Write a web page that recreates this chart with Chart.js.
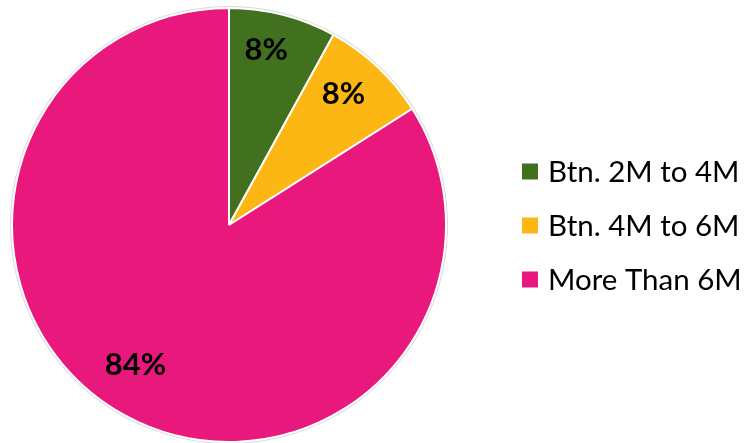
<!DOCTYPE html>
<html>
<head>
<meta charset="utf-8">
<script src="https://cdn.jsdelivr.net/npm/chart.js@4/dist/chart.umd.min.js"></script>
<style>
  html, body { margin: 0; padding: 0; background: #ffffff; }
  #wrap { position: relative; width: 749px; height: 443px; }
</style>
</head>
<body>
<div id="wrap"><canvas id="c" width="749" height="443"></canvas></div>
<script>
// Share of properties by price band
const categories = ['Btn. 2M to 4M', 'Btn. 4M to 6M', 'More Than 6M'];
const shares = [8, 8, 84];
const sliceColors = ['#41711f', '#fdb714', '#e9187d'];

// faint grey rim around the pie
const rimPlugin = {
  id: 'rim',
  beforeDatasetsDraw(chart) {
    const arc = chart.getDatasetMeta(0).data[0];
    if (!arc) return;
    const ctx = chart.ctx;
    ctx.save();
    ctx.beginPath();
    ctx.arc(arc.x, arc.y, arc.outerRadius + 1, 0, Math.PI * 2);
    ctx.strokeStyle = 'rgba(0,0,0,0.15)';
    ctx.lineWidth = 2;
    ctx.stroke();
    ctx.restore();
  }
};

// percentage labels inside each slice (best-fit style: small angle / radius nudges)
const valueLabels = {
  id: 'valueLabels',
  afterDatasetsDraw(chart, args, opts) {
    const ctx = chart.ctx;
    const ds = chart.data.datasets[0];
    ctx.save();
    ctx.font = 'bold 31px Lato, "Open Sans", sans-serif';
    ctx.fillStyle = '#000000';
    ctx.textAlign = 'center';
    ctx.textBaseline = 'middle';
    chart.getDatasetMeta(0).data.forEach((arc, i) => {
      const nudge = opts.angleNudge[i] * Math.PI / 180;
      const mid = (arc.startAngle + arc.endAngle) / 2 + nudge;
      const r = arc.outerRadius * opts.radiusFactor[i];
      ctx.fillText(ds.data[i] + '%', arc.x + Math.cos(mid) * r, arc.y + Math.sin(mid) * r);
    });
    ctx.restore();
  }
};

// legend on the right
const sideLegend = {
  id: 'sideLegend',
  afterDraw(chart) {
    const ctx = chart.ctx;
    const ds = chart.data.datasets[0];
    ctx.save();
    ctx.font = '29.5px Lato, "Open Sans", sans-serif';
    ctx.textBaseline = 'middle';
    ctx.textAlign = 'left';
    chart.data.labels.forEach((lab, i) => {
      const y = 171.5 + i * 54;
      ctx.fillStyle = ds.backgroundColor[i];
      ctx.fillRect(522, y - 8, 16, 16);
      ctx.fillStyle = '#000000';
      ctx.fillText(lab, 548, y + 1);
    });
    ctx.restore();
  }
};

new Chart(document.getElementById('c'), {
  type: 'pie',
  data: {
    labels: categories,
    datasets: [{
      data: shares,
      backgroundColor: sliceColors,
      borderColor: '#ffffff',
      borderWidth: 2
    }]
  },
  options: {
    responsive: false,
    animation: false,
    radius: 217,
    layout: { padding: { left: 0, right: 291, top: 7, bottom: 0 } },
    plugins: {
      legend: { display: false },
      tooltip: { enabled: false },
      valueLabels: {
        angleNudge: [-2.4, -2, 5],
        radiusFactor: [0.825, 0.8, 0.775]
      }
    }
  },
  plugins: [rimPlugin, valueLabels, sideLegend]
});
</script>
</body>
</html>
